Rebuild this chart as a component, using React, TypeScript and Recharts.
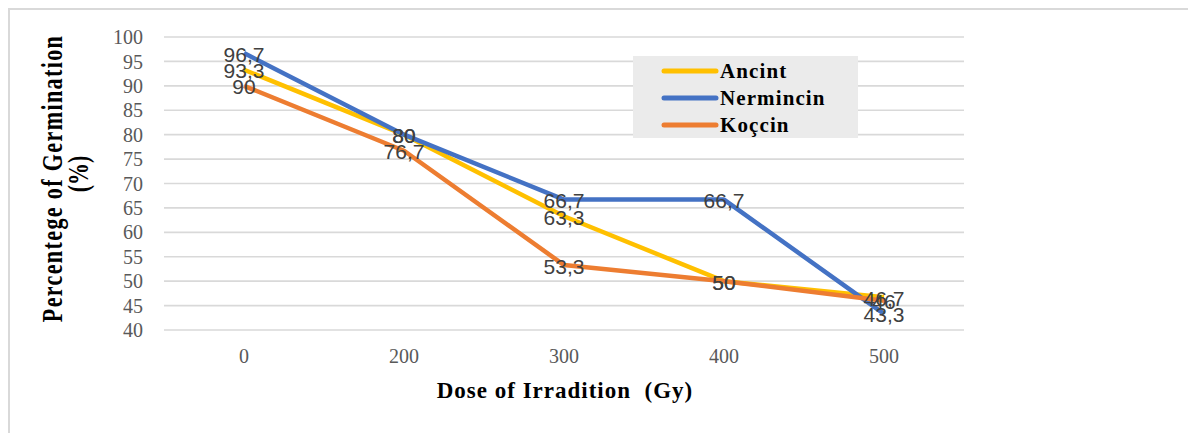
import React from 'react';
import { LineChart, Line, XAxis, YAxis, CartesianGrid, Legend } from 'recharts';

const doses = ['0', '200', '300', '400', '500'];
const ancint = [93.3, 80, 63.3, 50, 46.7];
const nermincin = [96.7, 80, 66.7, 66.7, 43.3];
const kocin = [90, 76.7, 53.3, 50, 46];
const yTicks = [40, 45, 50, 55, 60, 65, 70, 75, 80, 85, 90, 95, 100];

const seriesNames = ['Ancint', 'Nermincin', 'Koçcin'];
const seriesColors = ['#FFC000', '#4472C4', '#ED7D31'];
const seriesValues = [ancint, nermincin, kocin];

const xTitle = 'Dose of Irradition  (Gy)';
const yTitle1 = 'Percentege of Germination';
const yTitle2 = '(%)';

const data = doses.map((d, i) => {
  const row: Record<string, any> = { dose: d };
  seriesNames.forEach((n, s) => {
    row[n] = seriesValues[s][i];
  });
  return row;
});

const SERIF = '"Liberation Serif", "Times New Roman", serif';
const SANS = '"Liberation Sans", Arial, sans-serif';

const renderLabel = (props: any) => {
  const { x, y, value } = props;
  if (x == null || y == null) return null;
  return (
    <text
      x={x}
      y={y + 1}
      textAnchor="middle"
      dominantBaseline="central"
      fontFamily={SANS}
      fontSize={21}
      fill="#404040"
    >
      {String(value).replace('.', ',')}
    </text>
  );
};

const LegendBox = (props: any) => {
  const payload = (props.payload || [])
    .filter((p: any) => seriesNames.includes(p.value))
    .sort((a: any, b: any) => seriesNames.indexOf(a.value) - seriesNames.indexOf(b.value));
  return (
    <svg width={225} height={82} style={{ display: 'block' }}>
      <rect x={0} y={0} width={225} height={82} fill="#ebebeb" />
      {payload.map((p: any, i: number) => {
        const cy = 15 + i * 27;
        return (
          <g key={p.value}>
            <line x1={31} x2={83} y1={cy} y2={cy} stroke={p.color} strokeWidth={5} strokeLinecap="round" />
            <text
              x={87}
              y={cy + 7}
              fontFamily={SERIF}
              fontWeight="bold"
              fontSize={21}
              letterSpacing={1.1}
              fill="#000"
            >
              {p.value}
            </text>
          </g>
        );
      })}
    </svg>
  );
};

export default function App() {
  return (
    <div
      style={{
        position: 'fixed',
        left: 0,
        top: 0,
        width: 1188,
        height: 433,
        overflow: 'hidden',
        background: '#fff',
      }}
    >
      <div
        style={{
          position: 'absolute',
          left: 8,
          top: 8,
          width: 1300,
          height: 600,
          border: '2px solid #d9d9d9',
          boxSizing: 'border-box',
        }}
      />
      <div style={{ position: 'absolute', left: 0, top: 0 }}>
        <LineChart
          width={1188}
          height={433}
          data={data}
          margin={{ top: 37, right: 224, bottom: 73, left: 104 }}
          style={{ fontFamily: SERIF }}
        >
          <CartesianGrid horizontal vertical={false} stroke="#d9d9d9" strokeWidth={1.6} />
          <XAxis
            dataKey="dose"
            height={30}
            padding={{ left: 80, right: 80 }}
            axisLine={false}
            tickLine={false}
            tickSize={0}
            tickMargin={19}
            interval={0}
            tick={{ fill: '#595959', fontSize: 20, fontFamily: SERIF }}
          />
          <YAxis
            width={60}
            domain={[40, 100]}
            ticks={yTicks}
            interval={0}
            axisLine={false}
            tickLine={false}
            tickSize={0}
            tickMargin={21}
            tick={{ fill: '#595959', fontSize: 20, fontFamily: SERIF }}
          />
          <Legend
            layout="vertical"
            align="center"
            verticalAlign="middle"
            content={<LegendBox />}
            wrapperStyle={{ position: 'absolute', left: 633, top: 56, width: 225, height: 82 }}
          />
          {seriesNames.map((n, s) => (
            <Line
              key={n}
              type="linear"
              dataKey={n}
              name={n}
              stroke={seriesColors[s]}
              strokeWidth={4.5}
              strokeLinejoin="round"
              dot={false}
              activeDot={false}
              isAnimationActive={false}
            />
          ))}
          {seriesNames.map((n) => (
            <Line
              key={n + '-labels'}
              type="linear"
              dataKey={n}
              name={n + ' labels'}
              stroke="none"
              legendType="none"
              dot={false}
              activeDot={false}
              isAnimationActive={false}
              label={renderLabel}
            />
          ))}
        </LineChart>
      </div>
      <svg
        width={1188}
        height={433}
        style={{ position: 'absolute', left: 0, top: 0, pointerEvents: 'none' }}
      >
        <text
          transform="translate(62,178.5) rotate(-90) scale(1,1.35)"
          textAnchor="middle"
          fontFamily={SERIF}
          fontWeight="bold"
          fontSize={22}
          letterSpacing={1.4}
          fill="#000"
        >
          {yTitle1}
        </text>
        <text
          transform="translate(88,174) rotate(-90) scale(1,1.35)"
          textAnchor="middle"
          fontFamily={SERIF}
          fontWeight="bold"
          fontSize={22}
          fill="#000"
        >
          {yTitle2}
        </text>
        <text
          x={565}
          y={398}
          textAnchor="middle"
          fontFamily={SERIF}
          fontWeight="bold"
          fontSize={23}
          letterSpacing={1}
          fill="#000"
          style={{ whiteSpace: 'pre' }}
        >
          {xTitle}
        </text>
      </svg>
    </div>
  );
}
